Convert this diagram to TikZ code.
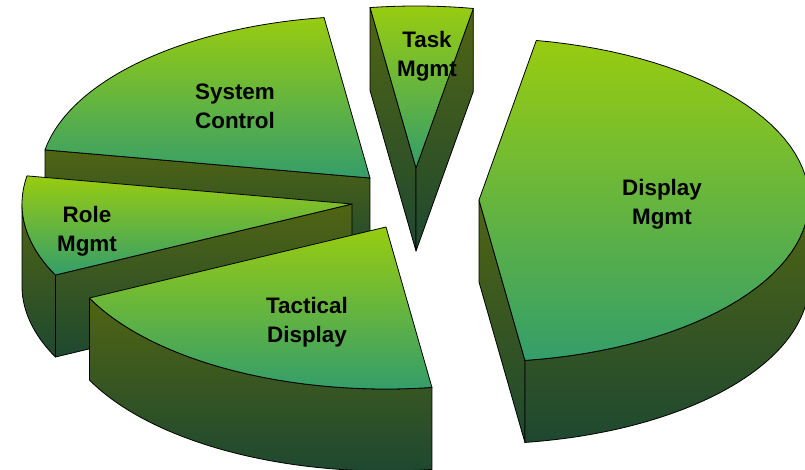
\documentclass[tikz,border=0pt]{standalone}
\usepackage{fontspec}
\setmainfont{Liberation Sans}
\definecolor{faceTop}{RGB}{152,204,16}
\definecolor{faceBot}{RGB}{52,158,106}
\definecolor{sideTop}{RGB}{80,100,18}
\definecolor{sideBot}{RGB}{30,72,48}
\tikzset{
  topface/.style={top color=faceTop, bottom color=faceBot, draw=black, line width=0.8pt, line join=round},
  sideface/.style={top color=sideTop, bottom color=sideBot, draw=black, line width=0.8pt, line join=round},
  lbl/.style={font=\bfseries\fontsize{22.4}{29}\selectfont, align=center, inner sep=0pt},
  rimplot/.style={samples=60}
}
% point on the rim of a slice centred at (#1,#2), at angle #3
\newcommand\ept[3]{({#1+330*cos(#3)},{#2+162*sin(#3)})}
\begin{document}
\begin{tikzpicture}[x=1pt,y=-1pt]
\useasboundingbox (0,0) rectangle (805,469);

% System Control: 190 -> 262, centre (370,178)
\path[sideface] (370,178) -- \ept{370}{178}{190} -- \ept{370}{260}{190} -- (370,260) -- cycle;
\path[topface] (370,178) -- plot[rimplot,domain=190:262] ({370+330*cos(\x)},{178+162*sin(\x)}) -- cycle;

% Task Mgmt: 262 -> 280, centre (416,168)
\path[sideface] (416,168) -- \ept{416}{168}{262} -- \ept{416}{251}{262} -- (416,251) -- cycle;
\path[sideface] (416,168) -- \ept{416}{168}{280} -- \ept{416}{251}{280} -- (416,251) -- cycle;
\path[topface] (416,168) -- plot[rimplot,domain=262:280] ({416+330*cos(\x)},{168+162*sin(\x)}) -- cycle;

% Role Mgmt: 154 -> 190, centre (352,204)
\path[sideface] plot[rimplot,domain=154:180] ({352+330*cos(\x)},{204+162*sin(\x)})
  -- plot[rimplot,domain=180:154] ({352+330*cos(\x)},{286+162*sin(\x)}) -- cycle;
\path[sideface] (352,204) -- \ept{352}{204}{154} -- \ept{352}{286}{154} -- (352,286) -- cycle;
\path[topface] (352,204) -- plot[rimplot,domain=154:190] ({352+330*cos(\x)},{204+162*sin(\x)}) -- cycle;

% Tactical Display: 82 -> 154, centre (386,227)
\path[sideface] plot[rimplot,domain=82:154] ({386+330*cos(\x)},{227+162*sin(\x)})
  -- plot[rimplot,domain=154:82] ({386+330*cos(\x)},{309+162*sin(\x)}) -- cycle;
\path[topface] (386,227) -- plot[rimplot,domain=82:154] ({386+330*cos(\x)},{227+162*sin(\x)}) -- cycle;

% Display Mgmt: -80 -> 82, centre (479,200)
\path[sideface] (479,200) -- \ept{479}{200}{82} -- \ept{479}{282}{82} -- (479,282) -- cycle;
\path[sideface] plot[rimplot,domain=0:82] ({479+330*cos(\x)},{200+162*sin(\x)})
  -- plot[rimplot,domain=82:0] ({479+330*cos(\x)},{282+162*sin(\x)}) -- cycle;
\path[topface] (479,200) -- plot[rimplot,domain=-80:82] ({479+330*cos(\x)},{200+162*sin(\x)}) -- cycle;

% labels
\node[lbl] (sys)  at (235,106) {System\\Control};
\node[lbl] (task) at (427,56)  {Task\\Mgmt};
\node[lbl] (role) at (87,231)  {Role\\Mgmt};
\node[lbl] (tac)  at (307,322) {Tactical\\Display};
\node[lbl] (disp) at (662,204) {Display\\Mgmt};
\end{tikzpicture}
\end{document}
